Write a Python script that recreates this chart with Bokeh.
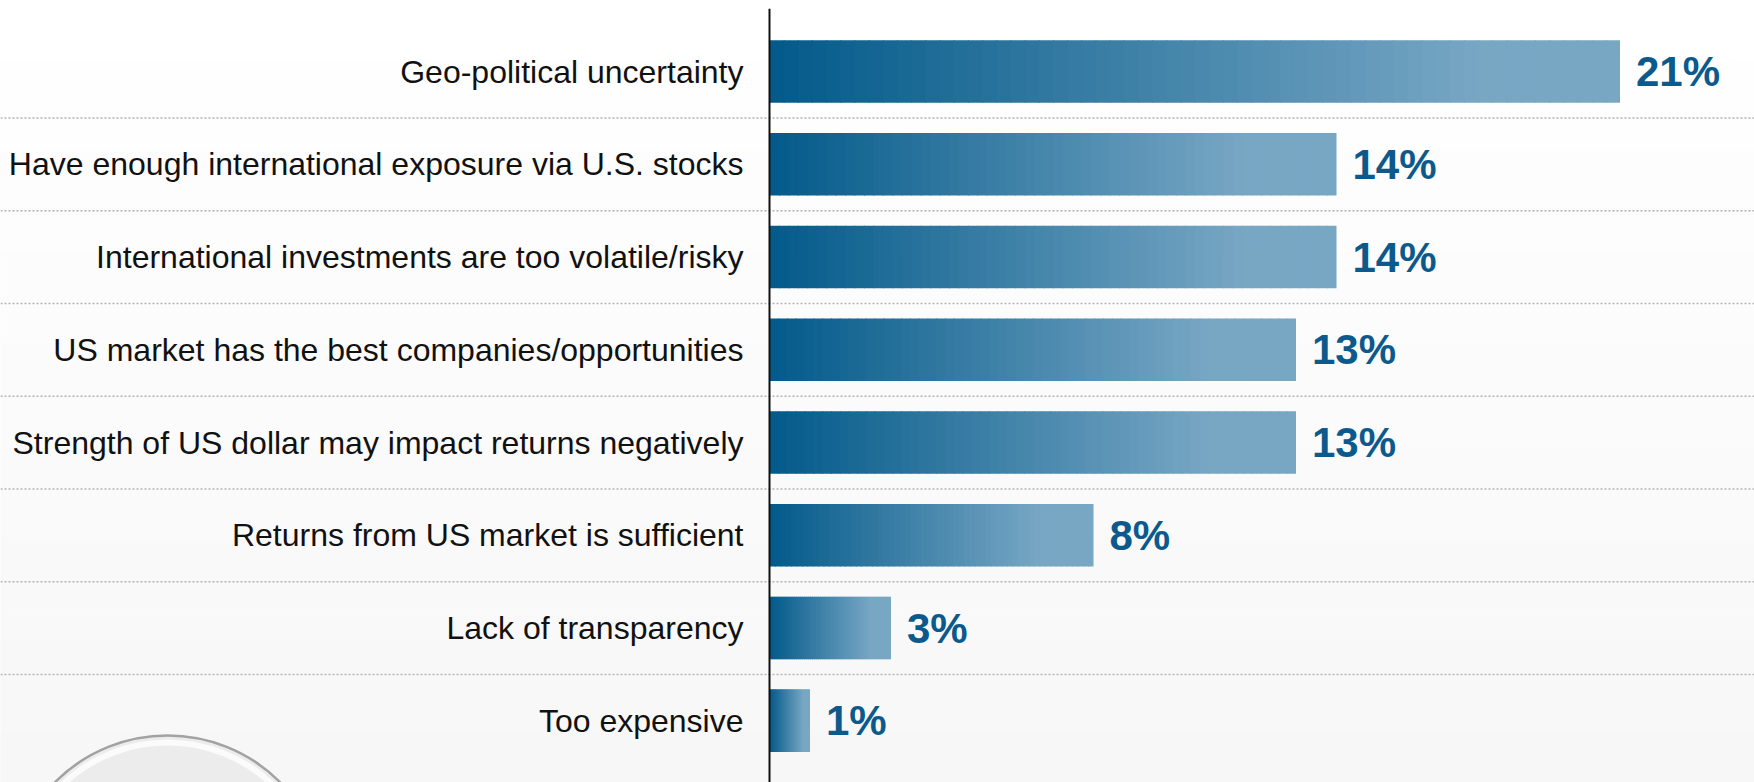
from bokeh.plotting import figure
from bokeh.models import Range1d, Span, ColumnDataSource
from bokeh.core.properties import value
from bokeh.embed import file_html
from bokeh.resources import INLINE

# ---------------- data ----------------
categories = [
    "Geo-political uncertainty",
    "Have enough international exposure via U.S. stocks",
    "International investments are too volatile/risky",
    "US market has the best companies/opportunities",
    "Strength of US dollar may impact returns negatively",
    "Returns from US market is sufficient",
    "Lack of transparency",
    "Too expensive",
]
values = [21, 14, 14, 13, 13, 8, 3, 1]
value_labels = ["21%", "14%", "14%", "13%", "13%", "8%", "3%", "1%"]

# ---------------- layout ----------------
W, H = 1754, 782
TOP = 8                # white strip above the frame
FH = H - TOP           # frame height
ZERO_PX = 769.0        # screen x of value 0
PX_PER_UNIT = 40.5     # px per percentage point
ROW_PX = 92.75         # px per category row
FIRST_ROW_PX = 63.0    # frame y of first row centre

x0 = -ZERO_PX / PX_PER_UNIT
x1 = (W - ZERO_PX) / PX_PER_UNIT
ytop = -FIRST_ROW_PX / ROW_PX
ybot = (FH - FIRST_ROW_PX) / ROW_PX

p = figure(width=W, height=H, x_range=Range1d(x0, x1), y_range=Range1d(ybot, ytop),
           output_backend="svg", toolbar_location=None,
           min_border_left=0, min_border_right=0, min_border_bottom=0,
           min_border_top=TOP, x_axis_type=None, y_axis_type=None)
p.grid.visible = False
p.outline_line_color = None
p.background_fill_color = "white"
p.border_fill_color = "white"

# ---- background vertical gradient (white -> light grey) ----
nb = 60
edges = [ytop + (ybot - ytop) * i / nb for i in range(nb + 1)]
bg_cols = []
for i in range(nb):
    t = (i + 0.5) / nb
    g = int(round(255 - 8 * t))
    bg_cols.append("#%02x%02x%02x" % (g, g, g))
p.quad(left=x0, right=x1, top=edges[:-1], bottom=edges[1:],
       fill_color=bg_cols, line_color=bg_cols, line_width=1)

# ---- decorative disc bottom-left ----
cx = (167 - ZERO_PX) / PX_PER_UNIT
cy = (886 - FIRST_ROW_PX) / ROW_PX
p.scatter(x=[cx], y=[cy], size=318, marker="circle", fill_color="#ececec",
          line_color="#a2a2a2", line_width=2.5)
p.scatter(x=[cx], y=[cy], size=304, marker="circle", fill_color=None,
          line_color="#fbfbfb", line_width=6)

# ---- dotted row separators ----
ys = list(range(len(categories)))
seps = [y + 0.5 for y in ys[:-1]]
p.segment(x0=x0, x1=x1, y0=seps, y1=seps, line_color="#b3b3b3",
          line_width=1.5, line_dash="2 2")

# ---- gradient bars (thin slices with ~1px overlap to hide seams) ----
c_start = (0x03, 0x5a, 0x8a)
c_end = (0x78, 0xa7, 0xc4)
N = 60
eps = 1.0 / PX_PER_UNIT
left, right, yy, cols = [], [], [], []
for v, y in zip(values, ys):
    for i in range(N):
        f = (i + 0.5) / N
        t = min(f / 0.84, 1.0)
        c = tuple(int(round(a + (b - a) * t)) for a, b in zip(c_start, c_end))
        left.append(v * i / N)
        right.append(min(v, v * (i + 1) / N + eps))
        yy.append(y)
        cols.append("#%02x%02x%02x" % c)
bars = ColumnDataSource(dict(left=left, right=right, y=yy, c=cols))
p.hbar(y="y", left="left", right="right", height=0.674, source=bars,
       fill_color="c", line_color=None)

# ---- axis line ----
p.add_layout(Span(location=0, dimension="height", line_color="#111111", line_width=2))

# ---- category labels ----
p.text(x=[0] * len(categories), y=ys, text=categories, x_offset=-26,
       text_align="right", text_baseline="middle",
       text_font=value("Liberation Sans"), text_font_size="32px", text_color="#111111")

# ---- value labels ----
p.text(x=values, y=ys, text=value_labels, x_offset=16,
       text_align="left", text_baseline="middle",
       text_font=value("Liberation Sans"), text_font_style="bold",
       text_font_size="42px", text_color="#0b5a8b")

open("out.html", "w").write(file_html(p, INLINE))
